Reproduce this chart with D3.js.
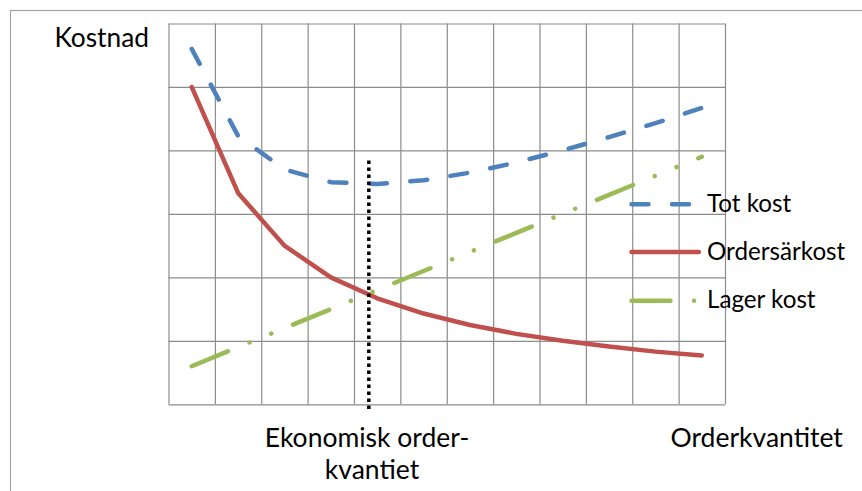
<!DOCTYPE html>
<html>
<head>
<meta charset="utf-8">
<script src="https://cdn.jsdelivr.net/npm/d3@7"></script>
<style>
  html, body { margin: 0; padding: 0; background: #fff; }
  svg { display: block; }
  text { font-family: Lato, "Open Sans", sans-serif; fill: #000; }
</style>
</head>
<body>
<svg id="chart" width="862" height="491"></svg>
<script>
// Order quantities (category axis) and the three cost curves
const quantities = [2, 3, 4, 5, 6, 7, 8, 9, 10, 11, 12, 13];
const totKost      = [5.60, 4.23, 3.70, 3.50, 3.47, 3.53, 3.65, 3.81, 4.00, 4.21, 4.43, 4.67];
const orderSarKost = [5.00, 3.33, 2.50, 2.00, 1.67, 1.43, 1.25, 1.11, 1.00, 0.91, 0.83, 0.77];
const lagerKost    = [0.60, 0.90, 1.20, 1.50, 1.80, 2.10, 2.40, 2.70, 3.00, 3.30, 3.60, 3.90];
const costTicks = [0, 1, 2, 3, 4, 5, 6];
const eoqQuantity = 5.82;           // economic order quantity marker
const seriesNames = ["Tot kost", "Ordersärkost", "Lager kost"];

const svg = d3.select("#chart");
const plot = { left: 168.5, right: 725, top: 23.5, bottom: 404.3 };

// category bands: lines sit at band centres, gridlines on band edges
const xBand = d3.scaleBand().domain(quantities).range([plot.left, plot.right]).paddingInner(0).paddingOuter(0);
const xQ = d3.scaleLinear()
  .domain([quantities[0], quantities[quantities.length - 1]])
  .range([xBand(quantities[0]) + xBand.bandwidth() / 2,
          xBand(quantities[quantities.length - 1]) + xBand.bandwidth() / 2]);
const y = d3.scaleLinear().domain([0, 6]).range([plot.bottom, plot.top]);

// outer chart frame
svg.append("rect")
  .attr("x", 10.5).attr("y", 10.5).attr("width", 900).attr("height", 600)
  .attr("fill", "none").attr("stroke", "#a3a3a3").attr("stroke-width", 1.2);

const gridColor = "#8c8c8c";
const bandEdges = quantities.map(q => q - 0.5).concat([quantities[quantities.length - 1] + 0.5]);

// vertical gridlines (between categories) via a bottom axis
const gx = svg.append("g")
  .attr("transform", `translate(0,${plot.bottom})`)
  .call(d3.axisBottom(xQ).tickValues(bandEdges).tickSize(-(plot.bottom - plot.top)).tickFormat(""));
gx.select(".domain").remove();
gx.selectAll("line").attr("stroke", gridColor).attr("stroke-width", 1.2);

// horizontal gridlines via a left axis
const gy = svg.append("g")
  .attr("transform", `translate(${plot.left},0)`)
  .call(d3.axisLeft(y).tickValues(costTicks).tickSize(-(plot.right - plot.left)).tickFormat(""));
gy.select(".domain").remove();
gy.selectAll("line").attr("stroke", gridColor).attr("stroke-width", 1.2);

const line = d3.line().x((d, i) => xQ(quantities[i])).y(d => y(d));

const styles = [
  { data: totKost,      color: "#4F81BD", dash: "17,23.5" },
  { data: orderSarKost, color: "#C0504D", dash: null },
  { data: lagerKost,    color: "#9BBB59", dash: "39,23.5,0.01,23.5,0.01,23.5" }
];

styles.forEach(s => {
  svg.append("path")
    .datum(s.data)
    .attr("d", line)
    .attr("fill", "none")
    .attr("stroke", s.color)
    .attr("stroke-width", 4.5)
    .attr("stroke-linecap", "round")
    .attr("stroke-linejoin", "round")
    .attr("stroke-dasharray", s.dash);
});

// economic order quantity marker
svg.append("line")
  .attr("x1", xQ(eoqQuantity)).attr("x2", xQ(eoqQuantity))
  .attr("y1", 160.5).attr("y2", 410)
  .attr("stroke", "#000").attr("stroke-width", 3.5)
  .attr("stroke-dasharray", "3.5,3.5");

// legend
const legend = svg.append("g");
const legendRows = [204.3, 252, 300.7];
styles.forEach((s, i) => {
  legend.append("line")
    .attr("x1", 631.5).attr("x2", 698.8)
    .attr("y1", legendRows[i]).attr("y2", legendRows[i])
    .attr("stroke", s.color).attr("stroke-width", 4.5)
    .attr("stroke-linecap", "round")
    .attr("stroke-dasharray", s.dash);
  legend.append("text")
    .attr("x", 707).attr("y", legendRows[i] + 7.5)
    .style("font-size", "24.2px")
    .text(seriesNames[i]);
});

// axis titles
svg.append("text").attr("x", 149).attr("y", 46.5).attr("text-anchor", "end")
  .style("font-size", "26.3px").text("Kostnad");

const eoqLabel = svg.append("text").attr("text-anchor", "middle").style("font-size", "26.5px");
eoqLabel.append("tspan").attr("x", 367).attr("y", 446.5).text("Ekonomisk order-");
eoqLabel.append("tspan").attr("x", 372).attr("y", 478.5).text("kvantiet");

svg.append("text").attr("x", 670.5).attr("y", 447)
  .style("font-size", "26.5px").text("Orderkvantitet");
</script>
</body>
</html>
